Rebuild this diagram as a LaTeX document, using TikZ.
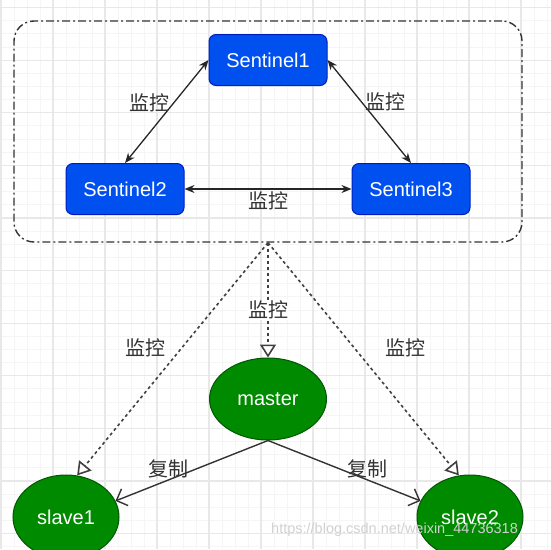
\documentclass[tikz,border=0pt]{standalone}
\usepackage{fontspec}
\setmainfont{Liberation Sans}
\newfontfamily\cjk{Noto Sans CJK SC}
\usetikzlibrary{arrows.meta,shapes.geometric}

\definecolor{sentfill}{HTML}{0050EF}
\definecolor{sentline}{HTML}{001DBC}
\definecolor{nodefill}{HTML}{008A00}
\definecolor{nodeline}{HTML}{005700}
\definecolor{labgray}{HTML}{333333}

\tikzset{
  sentinel/.style={draw=sentline, fill=sentfill, rounded corners=7pt, line width=1pt,
    minimum width=118pt, minimum height=51pt, inner sep=0pt, text=white,
    font=\fontsize{20}{24}\selectfont},
  redis/.style={ellipse, draw=nodeline, fill=nodefill, line width=1pt,
    minimum width=110pt, minimum height=84pt, inner sep=0pt, text=white,
    font=\fontsize{20}{24}\selectfont},
  lab/.style={text=labgray, inner sep=2pt, font=\cjk\fontsize{20}{24}\selectfont},
  mon/.style={{Stealth[length=10pt,width=8pt]}-{Stealth[length=10pt,width=8pt]}, line width=1.3pt, draw=black!85},
  watch/.style={-{Triangle[open,length=13pt,width=16pt]}, line width=1.6pt, draw=black!75,
    dash pattern=on 3pt off 3pt},
  copy/.style={-{Straight Barb[length=9pt,width=18pt]}, line width=1.4pt, draw=black!80}
}

\begin{document}
\begin{tikzpicture}[x=1pt,y=-1pt]

\useasboundingbox (0,0) rectangle (551,549);
\clip (0,0) rectangle (551,549);

% grid
\foreach \i in {0,...,43} \draw[black!4, line width=0.8pt] (1+13*\i,0) -- (1+13*\i,549);
\foreach \i in {0,...,43} \draw[black!4, line width=0.8pt] (0,7.5+13.15*\i) -- (551,7.5+13.15*\i);
\foreach \i in {0,...,10} \draw[black!9, line width=1.2pt] (1+52*\i,0) -- (1+52*\i,549);
\foreach \i in {0,...,10} \draw[black!9, line width=1.2pt] (0,7.5+52.6*\i) -- (551,7.5+52.6*\i);

% sentinel group
\node[draw=black!80, line width=1.4pt, rounded corners=20pt, dash pattern=on 8pt off 3pt on 2pt off 3pt,
  minimum width=508pt, minimum height=221pt, inner sep=0pt] (grp) at (268,131.5) {};

\node[sentinel] (s1) at (268,60) {Sentinel1};
\node[sentinel] (s2) at (125,189) {Sentinel2};
\node[sentinel] (s3) at (411,189) {Sentinel3};

\draw[mon] (s1.west) -- node[lab, pos=0.42, left=1pt] {监控} (s2.north);
\draw[mon] (s1.east) -- node[lab, pos=0.41, right=1pt] {监控} (s3.north);
\draw[mon] (s2.east) -- node[lab, midway, below=0pt] {监控} (s3.west);

% master / slaves
\node[redis, minimum width=117pt, minimum height=82pt] (master) at (268,399) {master};
\node[redis, minimum width=106pt] (slave1) at (66,517) {slave1};
\node[redis, minimum width=106pt] (slave2) at (470,517) {slave2};

\draw[watch] (grp.south) -- (master.north);
\node[lab, fill=white, inner sep=1pt] at (268,310) {监控};
\draw[watch] (grp.south) -- node[lab, pos=0.45, left=14pt] {监控} (slave1.75);
\draw[watch] (grp.south) -- node[lab, pos=0.45, right=29pt] {监控} (slave2.105);

\draw[copy] (master.south) -- node[lab, pos=0.65, above=-1pt] {复制} (slave1.18);
\draw[copy] (master.south) -- node[lab, pos=0.65, above=-1pt] {复制} (slave2.162);

% watermark
\node[text=black!18, font=\fontsize{14.5}{16}\selectfont, anchor=west, inner sep=0pt]
  (wm) at (271,530) {https://blog.csdn.net/weixin\_44736318};

\end{tikzpicture}
\end{document}
